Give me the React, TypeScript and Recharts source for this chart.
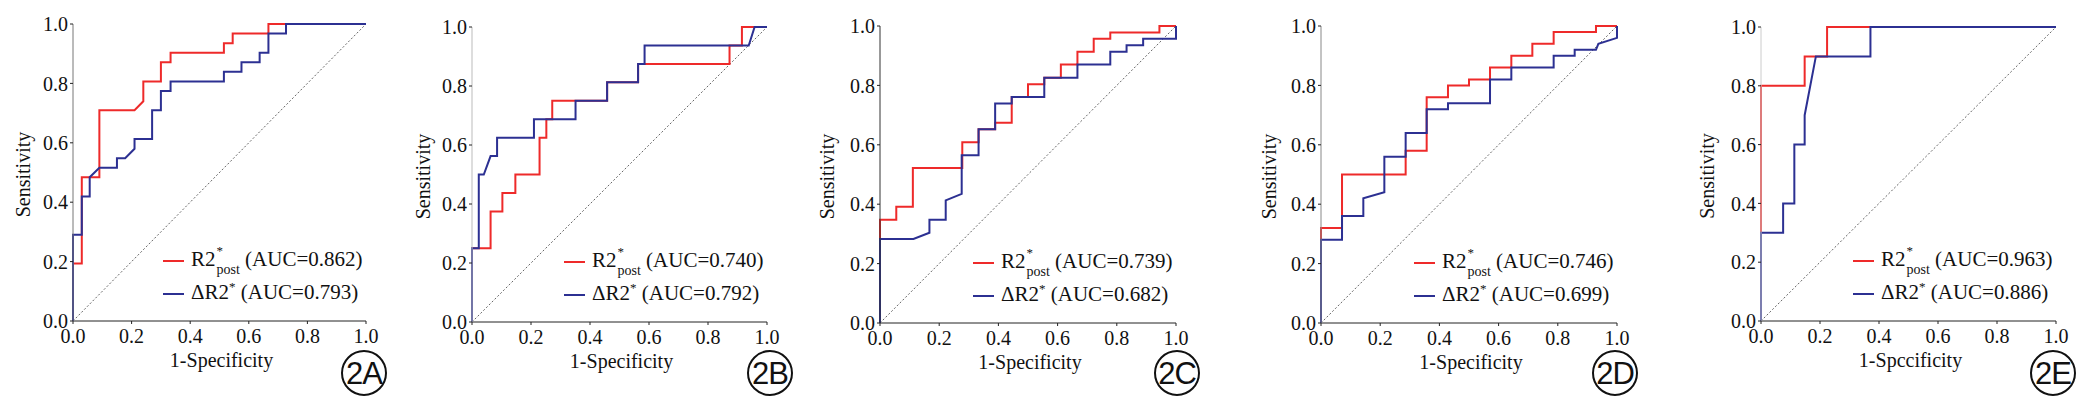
import { LineChart, Line, XAxis, YAxis, Legend, Label } from 'recharts';

const FONT = '"Liberation Serif", Tinos, "Times New Roman", "DejaVu Serif", serif';
const RED = '#ee2a2a';
const BLUE = '#2c3092';

const axisTicks = [0, 0.2, 0.4, 0.6, 0.8, 1.0];
const panelTags = ['2A', '2B', '2C', '2D', '2E'];
const xTitles = ['1-Specificity', '1-Specificity', '1-Specificity', '1-Specificity', '1-Spccificity'];
const yTitle = 'Sensitivity';
const seriesNames = ['R2*post', 'ΔR2*'];
const aucPost = [0.862, 0.740, 0.739, 0.746, 0.963];
const aucDelta = [0.793, 0.792, 0.682, 0.699, 0.886];

// chance line
const chanceFpr = [0, 1];
const chanceTpr = [0, 1];

// 2A
const aPostFpr = [0, 0, 0.03, 0.03, 0.09, 0.09, 0.21, 0.24, 0.24, 0.30, 0.30, 0.333, 0.333, 0.515, 0.515, 0.545, 0.545, 0.667, 0.667, 1];
const aPostTpr = [0, 0.194, 0.194, 0.484, 0.484, 0.71, 0.71, 0.74, 0.806, 0.806, 0.871, 0.871, 0.903, 0.903, 0.935, 0.935, 0.968, 0.968, 1, 1];
const aDeltaFpr = [0, 0, 0.03, 0.03, 0.057, 0.057, 0.09, 0.15, 0.15, 0.178, 0.21, 0.21, 0.27, 0.27, 0.30, 0.30, 0.333, 0.333, 0.515, 0.515, 0.575, 0.575, 0.637, 0.637, 0.667, 0.667, 0.727, 0.727, 1];
const aDeltaTpr = [0, 0.29, 0.29, 0.419, 0.419, 0.484, 0.516, 0.516, 0.548, 0.548, 0.58, 0.613, 0.613, 0.71, 0.71, 0.774, 0.774, 0.806, 0.806, 0.839, 0.839, 0.871, 0.871, 0.903, 0.903, 0.968, 0.968, 1, 1];

// 2B
const bPostFpr = [0, 0, 0.063, 0.063, 0.103, 0.103, 0.147, 0.147, 0.229, 0.229, 0.252, 0.252, 0.272, 0.272, 0.458, 0.458, 0.563, 0.563, 0.873, 0.873, 0.915, 0.915, 1];
const bPostTpr = [0, 0.25, 0.25, 0.375, 0.375, 0.4375, 0.4375, 0.5, 0.5, 0.625, 0.625, 0.6875, 0.6875, 0.75, 0.75, 0.8125, 0.8125, 0.875, 0.875, 0.9375, 0.9375, 1, 1];
const bDeltaFpr = [0, 0, 0.023, 0.023, 0.04, 0.063, 0.085, 0.085, 0.21, 0.21, 0.351, 0.351, 0.458, 0.458, 0.563, 0.563, 0.585, 0.585, 0.938, 0.958, 1];
const bDeltaTpr = [0, 0.25, 0.25, 0.5, 0.5, 0.5625, 0.5625, 0.625, 0.625, 0.6875, 0.6875, 0.75, 0.75, 0.8125, 0.8125, 0.875, 0.875, 0.9375, 0.9375, 1, 1];

// 2C
const cPostFpr = [0, 0, 0.055, 0.055, 0.111, 0.111, 0.278, 0.278, 0.333, 0.333, 0.389, 0.389, 0.445, 0.445, 0.5, 0.5, 0.555, 0.555, 0.611, 0.611, 0.667, 0.667, 0.722, 0.722, 0.778, 0.778, 0.944, 0.944, 1];
const cPostTpr = [0, 0.348, 0.348, 0.391, 0.391, 0.522, 0.522, 0.609, 0.609, 0.652, 0.652, 0.674, 0.674, 0.761, 0.761, 0.804, 0.804, 0.826, 0.826, 0.87, 0.87, 0.913, 0.913, 0.957, 0.957, 0.978, 0.978, 1, 1];
const cDeltaFpr = [0, 0, 0.113, 0.167, 0.167, 0.222, 0.222, 0.276, 0.276, 0.333, 0.333, 0.389, 0.389, 0.445, 0.445, 0.555, 0.555, 0.667, 0.667, 0.778, 0.778, 0.833, 0.833, 0.889, 0.889, 1, 1];
const cDeltaTpr = [0, 0.283, 0.283, 0.304, 0.348, 0.348, 0.413, 0.435, 0.565, 0.565, 0.652, 0.652, 0.739, 0.739, 0.761, 0.761, 0.826, 0.826, 0.87, 0.87, 0.913, 0.913, 0.935, 0.935, 0.957, 0.957, 1];

// 2D
const dPostFpr = [0, 0, 0.071, 0.071, 0.286, 0.286, 0.357, 0.357, 0.429, 0.429, 0.5, 0.5, 0.571, 0.571, 0.643, 0.643, 0.714, 0.714, 0.786, 0.786, 0.929, 0.929, 1];
const dPostTpr = [0, 0.32, 0.32, 0.5, 0.5, 0.58, 0.58, 0.76, 0.76, 0.8, 0.8, 0.82, 0.82, 0.86, 0.86, 0.9, 0.9, 0.94, 0.94, 0.98, 0.98, 1, 1];
const dDeltaFpr = [0, 0, 0.071, 0.071, 0.143, 0.143, 0.214, 0.214, 0.286, 0.286, 0.357, 0.357, 0.429, 0.429, 0.571, 0.571, 0.643, 0.643, 0.786, 0.786, 0.857, 0.857, 0.929, 0.937, 1, 1];
const dDeltaTpr = [0, 0.28, 0.28, 0.36, 0.36, 0.42, 0.44, 0.56, 0.56, 0.64, 0.64, 0.72, 0.72, 0.74, 0.74, 0.82, 0.82, 0.86, 0.86, 0.9, 0.9, 0.92, 0.92, 0.94, 0.96, 1];

// 2E
const ePostFpr = [0, 0, 0.148, 0.148, 0.224, 0.224, 1];
const ePostTpr = [0, 0.8, 0.8, 0.9, 0.9, 1, 1];
const eDeltaFpr = [0, 0, 0.075, 0.075, 0.113, 0.113, 0.148, 0.148, 0.186, 0.371, 0.371, 1];
const eDeltaTpr = [0, 0.3, 0.3, 0.4, 0.4, 0.6, 0.6, 0.7, 0.9, 0.9, 1, 1];

const toPoints = (xs: number[], ys: number[]) => xs.map((x, i) => ({ x, y: ys[i] }));

const chance = toPoints(chanceFpr, chanceTpr);
const curves = [
  [toPoints(aPostFpr, aPostTpr), toPoints(aDeltaFpr, aDeltaTpr)],
  [toPoints(bPostFpr, bPostTpr), toPoints(bDeltaFpr, bDeltaTpr)],
  [toPoints(cPostFpr, cPostTpr), toPoints(cDeltaFpr, cDeltaTpr)],
  [toPoints(dPostFpr, dPostTpr), toPoints(dDeltaFpr, dDeltaTpr)],
  [toPoints(ePostFpr, ePostTpr), toPoints(eDeltaFpr, eDeltaTpr)],
];

// plot box of each panel on the page (px) and a few per-panel styling quirks
const layout = [
  { l: 73, r: 366, t: 24, b: 321, yLab: 43, tag: -2, top: '#aaa', left: '#777' },
  { l: 472, r: 767, t: 27, b: 322, yLab: 42, tag: 3, top: '#222', left: '#bbb' },
  { l: 880, r: 1176, t: 26, b: 323, yLab: 46, tag: 1, top: '#222', left: '#333' },
  { l: 1321, r: 1617, t: 26, b: 323, yLab: 45, tag: -2, top: '#222', left: '#888' },
  { l: 1761, r: 2056, t: 27, b: 321, yLab: 47, tag: -3, top: '#222', left: '#ccc' },
];

const AXIS_W = 80;
const RIGHT_PAD = 24;

// eslint-disable-next-line @typescript-eslint/no-explicit-any
const RocLegend = ({ payload, aucs }: { payload?: any[]; aucs: number[] }) => {
  // the chance line is kept out of the legend
  const items = (payload || []).filter((e) => seriesNames.includes(e.value));
  return (
    <div style={{ fontFamily: FONT, fontSize: 21, color: '#111' }}>
      {items.map((entry) => {
        const k = seriesNames.indexOf(entry.value);
        return (
          <div key={entry.value} style={{ display: 'flex', alignItems: 'center', height: 33, whiteSpace: 'nowrap' }}>
            <span style={{ display: 'inline-block', width: 21, height: 2, background: entry.color, marginRight: 7 }} />
            <span style={{ lineHeight: '21px' }}>
              {k === 0 ? (
                <>
                  R2
                  <span style={{ position: 'relative', display: 'inline-block', marginLeft: 1 }}>
                    <span style={{ position: 'absolute', left: 0, top: -9, fontSize: 13 }}>*</span>
                    <span style={{ position: 'relative', top: 8, fontSize: 14 }}>post</span>
                  </span>
                </>
              ) : (
                <>
                  ΔR2
                  <span style={{ position: 'relative', top: -8, fontSize: 13 }}>*</span>
                </>
              )}
              {` (AUC=${Number(aucs[k]).toFixed(3)})`}
            </span>
          </div>
        );
      })}
    </div>
  );
};

const fmt = (v: number) => (typeof v === 'number' ? v.toFixed(1) : String(v));

function RocPanel({ idx }: { idx: number }) {
  const box = layout[idx];
  const plotW = box.r - box.l;
  const width = plotW + AXIS_W + RIGHT_PAD;
  const [post, delta] = curves[idx];
  const tickStyle = { fontFamily: FONT, fontSize: 20, fill: '#111' };

  return (
    <div style={{ position: 'absolute', left: box.l - AXIS_W, top: 0, fontFamily: FONT }}>
      <LineChart
        width={width}
        height={399}
        margin={{ top: box.t, right: RIGHT_PAD, left: 0, bottom: 0 }}
        style={{ fontFamily: FONT }}
      >
        <XAxis
          dataKey="x"
          type="number"
          domain={[0, 1]}
          ticks={axisTicks}
          interval={0}
          tickFormatter={fmt}
          tick={tickStyle}
          tickSize={3}
          tickMargin={5}
          height={399 - box.b}
          axisLine={{ stroke: '#222' }}
          tickLine={{ stroke: '#222' }}
        >
          <Label
            content={(props: any) => {
              const vb = props.viewBox;
              return (
                <text x={vb.x + vb.width / 2 + 2} y={vb.y + 46} textAnchor="middle" style={{ fontFamily: FONT }} fontSize={20} fill="#111">
                  {xTitles[idx]}
                </text>
              );
            }}
          />
        </XAxis>
        <YAxis
          type="number"
          domain={[0, 1]}
          ticks={axisTicks}
          interval={0}
          tickFormatter={fmt}
          tick={tickStyle}
          tickSize={3}
          tickMargin={2}
          width={AXIS_W}
          axisLine={{ stroke: box.left }}
          tickLine={{ stroke: '#222' }}
        >
          <Label
            content={(props: any) => {
              const vb = props.viewBox;
              const x = vb.x + vb.width - box.yLab;
              const y = vb.y + vb.height / 2 + 2;
              return (
                <text x={x} y={y} transform={`rotate(-90, ${x}, ${y})`} textAnchor="middle" style={{ fontFamily: FONT }} fontSize={20} fill="#111">
                  {yTitle}
                </text>
              );
            }}
          />
        </YAxis>
        <XAxis xAxisId="top" orientation="top" type="number" domain={[0, 1]} tick={false} tickLine={false} height={0} axisLine={{ stroke: box.top }} />
        <YAxis yAxisId="right" orientation="right" type="number" domain={[0, 1]} tick={false} tickLine={false} width={0} axisLine={{ stroke: '#222' }} />

        <Line data={chance} dataKey="y" name="chance" type="linear" stroke="#666" strokeWidth={1} strokeDasharray="2 2" dot={false} legendType="none" isAnimationActive={false} />
        <Line data={post} dataKey="y" name={seriesNames[0]} type="linear" stroke={RED} strokeWidth={2} dot={false} isAnimationActive={false} />
        <Line data={delta} dataKey="y" name={seriesNames[1]} type="linear" stroke={BLUE} strokeWidth={2} dot={false} isAnimationActive={false} />

        <Legend
          layout="vertical"
          align="center"
          verticalAlign="middle"
          wrapperStyle={{ left: AXIS_W + plotW - 203, top: box.b - 77, width: 'auto' }}
          content={(props: any) => <RocLegend payload={props.payload} aucs={[aucPost[idx], aucDelta[idx]]} />}
        />
      </LineChart>
    </div>
  );
}

export default function App() {
  return (
    <div style={{ position: 'absolute', left: 0, top: 0, width: 2079, height: 399, background: '#fff', overflow: 'hidden' }}>
      {layout.map((box, i) => (
        <RocPanel key={i} idx={i} />
      ))}
      {layout.map((box, i) => (
        <div
          key={`tag-${i}`}
          style={{
            position: 'absolute',
            left: box.r + box.tag - 23,
            top: 373 - 23,
            width: 42,
            height: 42,
            border: '2px solid #111',
            borderRadius: '50%',
            display: 'flex',
            alignItems: 'center',
            justifyContent: 'center',
            fontFamily: '"Liberation Sans", Arial, sans-serif',
            fontSize: 31,
            letterSpacing: -1,
            color: '#111',
            lineHeight: 1,
          }}
        >
          {panelTags[i]}
        </div>
      ))}
    </div>
  );
}
